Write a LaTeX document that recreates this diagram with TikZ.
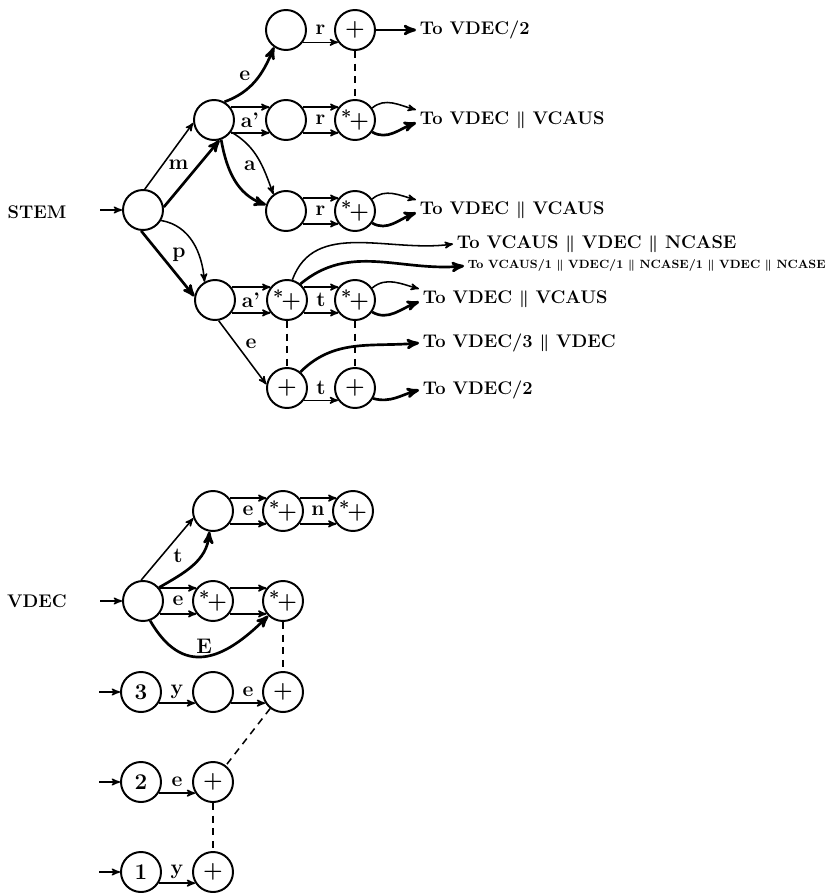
\documentclass[tikz,border=0pt]{standalone}
\usepackage{amsmath}
\usepackage{amssymb}
\usepackage{tikz}
\usetikzlibrary{arrows}
\tikzset{
  fsa_s/.style = {circle, draw=black, line width=1.4pt, minimum size=1cm,
    inner sep=0pt, font=\fontsize{16}{18}\selectfont\bfseries},% automate, etat
  fsa_l/.style = {inner sep=1pt, font=\fontsize{15}{17}\selectfont\bfseries\boldmath},% automate, etiquette
  fsa_t/.style = {anchor=west, inner xsep=2.5pt, inner ysep=1pt,
    font=\fontsize{13}{15}\selectfont\bfseries\boldmath},% automate, sortie
  fsa_ts/.style = {fsa_t, font=\fontsize{8.5}{10}\selectfont\bfseries\boldmath},
  fsa_e/.style = {->, line width=1.1pt},% arc fin
  fsa_eb/.style = {->, line width=1.9pt},% arc gras
  fsa_d/.style = {line width=1.1pt, dash pattern=on 5pt off 4pt},% lien
}
\newcommand{\bars}{$\|$}
\newcommand{\splus}{\raisebox{3pt}{\fontsize{13}{14}\selectfont*}\kern-1.5pt+}

\begin{document}
\begin{tikzpicture}[x=0.025cm, y=0.025cm, >=stealth']
  \useasboundingbox (0,0) rectangle (836,-893);
  %   STEM
  \node[fsa_l, font=\fontsize{13}{15}\selectfont\bfseries] (stem) at (37,-212) {STEM};
  \coordinate (s_in) at (100,-210);
  \node[fsa_s] (s0) at (143,-210) {};
  \node[fsa_s] (s1) at (214,-120) {};
  \node[fsa_s] (sp) at (215,-300) {};
  \foreach \name/\y in {se/30, sa1/120, sa2/211}
  \node[fsa_s] (\name) at (286,-\y) {};

  \node[fsa_s] (pe) at (355,-30) {+};
  \node[fsa_s] (pa1) at (355,-120) {\splus};
  \node[fsa_s] (pa2) at (355,-211) {\splus};
  \node[fsa_s] (pp1) at (287,-300) {\splus};
  \node[fsa_s] (pp2) at (355,-300) {\splus};
  \node[fsa_s] (pp3) at (287,-388) {+};
  \node[fsa_s] (pp4) at (355,-388) {+};

  \node[fsa_t] (t1) at (416,-30) {To VDEC/2};
  \node[fsa_t] (t2) at (416,-120) {To VDEC \bars{} VCAUS};
  \node[fsa_t] (t3) at (416,-210) {To VDEC \bars{} VCAUS};
  \node[fsa_t] (t4) at (453,-244) {To VCAUS \bars{} VDEC \bars{} NCASE};
  \node[fsa_ts] (t5) at (464,-266) {To VCAUS/1 \bars{} VDEC/1 \bars{} NCASE/1 \bars{} VDEC \bars{} NCASE};
  \node[fsa_t] (t6) at (419,-299) {To VDEC \bars{} VCAUS};
  \node[fsa_t] (t7) at (419,-343) {To VDEC/3 \bars{} VDEC};
  \node[fsa_t] (t8) at (419,-390) {To VDEC/2};

  \draw[fsa_e] (s_in) -- (s0);
  % m, p
  \draw[fsa_e] (s0.85) -- (s1.188);
  \draw[fsa_eb] (s0.8) -- (s1.285);
  \path (s0) -- node[fsa_l] {m} (s1);
  \draw[fsa_eb] (s0.-95) -- (sp.170);
  \draw[fsa_e] (s0.-30) to[out=-10,in=95] (sp.120);
  \path (s0) -- node[fsa_l] {p} (sp);
  % e, a
  \draw[fsa_eb] (s1.60) to[out=20,in=248] node[fsa_l, above left, pos=0.45] {e} (se.235);
  \draw[fsa_e] (s1.-35) to[out=-30,in=110] (sa2.127);
  \draw[fsa_eb] (s1.-70) to[out=-80,in=160] (sa2.163);
  \path (s1) -- node[fsa_l] {a} (sa2);
  \draw[fsa_e] (sp.-80) -- (pp3.170);
  \path (sp) -- node[fsa_l] {e} (pp3);

  %   doubles
  \foreach \a/\b/\l in {s1/sa1/a', sa1/pa1/r, sa2/pa2/r, sp/pp1/a', pp1/pp2/t}{
    \draw[fsa_e] (\a.38) -- (\b.142);
    \draw[fsa_e] (\a.-38) -- (\b.-142);
    \path (\a) -- node[fsa_l] {\l} (\b);
  }
  \foreach \a/\b/\l in {se/pe/r, pp3/pp4/t}{
    \draw[fsa_e] (\a.-36) -- (\b.-144);
    \path (\a) -- node[fsa_l] {\l} (\b);
  }

  %   sorties
  \draw[fsa_eb] (pe) -- (t1.west);
  \foreach \a/\t in {pa1/t2, pa2/t3, pp2/t6}{
    \draw[fsa_e] (\a.35) to[out=40,in=165] (\t.north west);
    \draw[fsa_eb] (\a.-35) to[out=-30,in=200] ([yshift=-2pt]\t.west);
  }
  \draw[fsa_e] (pp1.75) to[out=70,in=188] (t4.west);
  \draw[fsa_eb] (pp1.50) to[out=40,in=185] (t5.west);
  \draw[fsa_eb] (pp3.50) to[out=45,in=185] (t7.west);
  \draw[fsa_eb] (pp4.-30) to[out=-15,in=195] (t8.west);

  \draw[fsa_d] (pe) -- (pa1);
  \draw[fsa_d] (pp1) -- (pp3);
  \draw[fsa_d] (pp2) -- (pp4);

  %   VDEC
  \node[fsa_l, font=\fontsize{13}{15}\selectfont\bfseries] (vdec) at (37,-601) {VDEC};
  \coordinate (v_in) at (100,-601);
  \node[fsa_s] (v0) at (143,-601) {};
  \node[fsa_s] (vt) at (213,-511) {};
  \node[fsa_s] (vt1) at (283,-511) {\splus};
  \node[fsa_s] (vt2) at (353,-511) {\splus};
  \node[fsa_s] (ve1) at (213,-601) {\splus};
  \node[fsa_s] (ve2) at (283,-601) {\splus};

  \foreach \n/\y in {3/692, 2/782, 1/872}{
    \coordinate (in\n) at (99,-\y);
    \node[fsa_s] (n\n) at (141,-\y) {\n};
    \draw[fsa_e] (in\n) -- (n\n);
  }
  \node[fsa_s] (vy) at (213,-692) {};
  \node[fsa_s] (vp3) at (283,-692) {+};
  \node[fsa_s] (vp2) at (213,-782) {+};
  \node[fsa_s] (vp1) at (213,-872) {+};

  \draw[fsa_e] (v_in) -- (v0);
  \draw[fsa_e] (v0.95) -- (vt.200);
  \draw[fsa_eb] (v0.40) to[out=30,in=-95] (vt.-100);
  \path (v0) -- node[fsa_l] {t} (vt);
  \draw[fsa_eb] (v0.-70) to[out=-60,in=-135,looseness=1.4] node[fsa_l, above, pos=0.5] {E} (ve2.-135);

  \foreach \a/\b/\l in {v0/ve1/e, ve1/ve2/{}, vt/vt1/e, vt1/vt2/n}{
    \draw[fsa_e] (\a.38) -- (\b.142);
    \draw[fsa_e] (\a.-38) -- (\b.-142);
    \path (\a) -- node[fsa_l] {\l} (\b);
  }
  \foreach \a/\b/\l in {n3/vy/y, vy/vp3/e, n2/vp2/e, n1/vp1/y}{
    \draw[fsa_e] (\a.-32) -- (\b.-148);
    \path (\a) -- node[fsa_l] {\l} (\b);
  }

  \draw[fsa_d] (ve2) -- (vp3);
  \draw[fsa_d] (vp3) -- (vp2);
  \draw[fsa_d] (vp2) -- (vp1);
\end{tikzpicture}
\end{document}
